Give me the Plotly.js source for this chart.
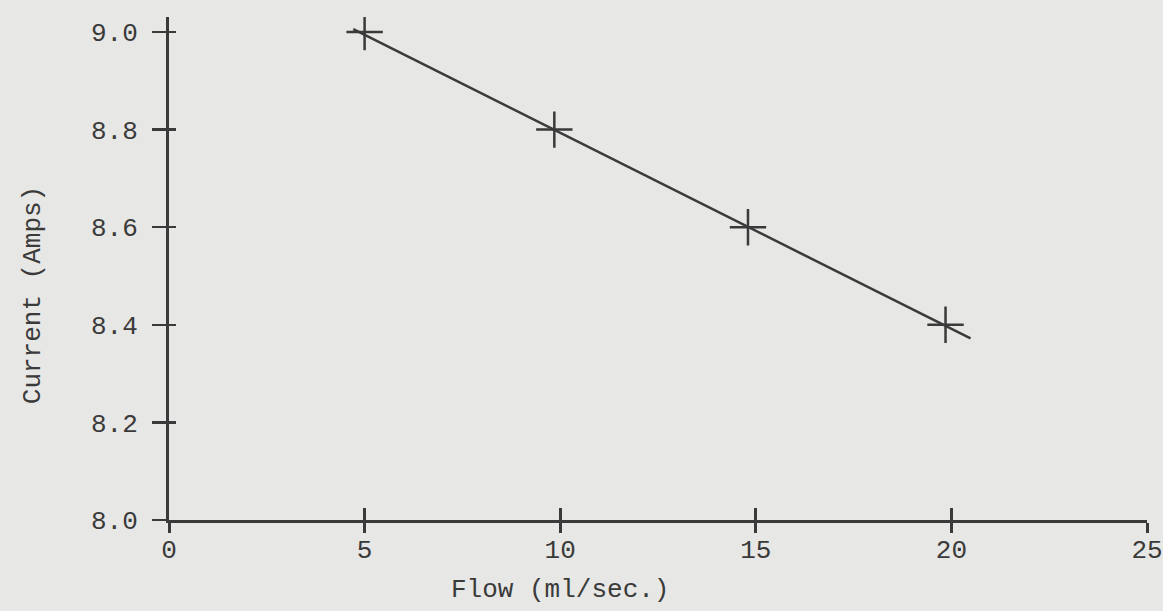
<!DOCTYPE html>
<html>
<head>
<meta charset="utf-8">
<script src="https://cdn.plot.ly/plotly-3.0.1.min.js"></script>
<style>
  html, body { margin: 0; padding: 0; background: #e7e7e5; }
  #chart { width: 1163px; height: 611px; }
</style>
</head>
<body>
<div id="chart"></div>
<script>
// Measured points (Flow in ml/sec, Current in Amps)
const flow = [5, 9.85, 14.8, 19.85];
const current = [9.0, 8.8, 8.6, 8.4];
// Drawn straight line through the points (end points)
const lineFlow = [4.71, 20.49];
const lineCurrent = [9.006, 8.372];
// Axis ticks
const xTicks = [0, 5, 10, 15, 20, 25];
const xTickLabels = ["0", "5", "10", "15", "20", "25"];
const yTicks = [8.0, 8.2, 8.4, 8.6, 8.8, 9.0];
const yTickLabels = ["8.0", "8.2", "8.4", "8.6", "8.8", "9.0"];
const xTitle = "Flow (ml/sec.)";
const yTitle = "Current (Amps)";

const ink = "#3a3a3a";
const fontFam = "Liberation Mono, DejaVu Sans Mono, monospace";
const fs = 26;
const xRange = [0, 25];
const yRange = [8.0, 9.0307];

const traces = [
  {
    x: lineFlow, y: lineCurrent, xaxis: "x2", yaxis: "y2",
    mode: "lines", line: { color: ink, width: 2.5 },
    hoverinfo: "skip", showlegend: false
  },
  {
    x: flow, y: current, mode: "markers",
    marker: { symbol: "cross-thin", size: 26, line: { color: ink, width: 2.5 } },
    showlegend: false
  }
];

const layout = {
  width: 1163, height: 611,
  paper_bgcolor: "#e7e7e5", plot_bgcolor: "rgba(0,0,0,0)",
  margin: { l: 169, r: 16, t: 17, b: 91 },
  font: { family: fontFam, color: ink, size: fs },
  showlegend: false,
  xaxis: {
    range: xRange, tickvals: xTicks, ticktext: xTickLabels,
    showgrid: false, zeroline: false,
    showline: true, linecolor: ink, linewidth: 3,
    ticks: "outside", ticklen: 10, tickwidth: 3, tickcolor: ink,
    ticklabelstandoff: -6,
    tickfont: { family: fontFam, size: fs, color: ink },
    fixedrange: true
  },
  yaxis: {
    range: yRange, tickvals: yTicks, ticktext: yTickLabels,
    showgrid: false, zeroline: false,
    showline: true, linecolor: ink, linewidth: 3,
    ticks: "outside", ticklen: 14, tickwidth: 2.5, tickcolor: ink,
    ticklabelstandoff: 9,
    tickfont: { family: fontFam, size: fs, color: ink },
    fixedrange: true
  },
  xaxis2: {
    overlaying: "x", anchor: "y2", range: xRange, tickvals: xTicks,
    showticklabels: false, showgrid: false, zeroline: false, showline: false,
    ticks: "inside", ticklen: 12, tickwidth: 3, tickcolor: ink, fixedrange: true
  },
  yaxis2: {
    overlaying: "y", anchor: "x2", range: yRange, tickvals: yTicks,
    showticklabels: false, showgrid: false, zeroline: false, showline: false,
    ticks: "inside", ticklen: 7, tickwidth: 2.5, tickcolor: ink, fixedrange: true
  },
  annotations: [
    {
      text: yTitle, xref: "paper", yref: "paper", x: -0.139, y: 0.447,
      xanchor: "center", yanchor: "middle", textangle: -90, showarrow: false,
      font: { family: fontFam, size: fs, color: ink }
    },
    {
      text: xTitle, xref: "paper", yref: "paper", x: 0.40, y: -0.139,
      xanchor: "center", yanchor: "middle", showarrow: false,
      font: { family: fontFam, size: fs, color: ink }
    }
  ]
};

Plotly.newPlot("chart", traces, layout, { displayModeBar: false, staticPlot: true });
</script>
</body>
</html>
